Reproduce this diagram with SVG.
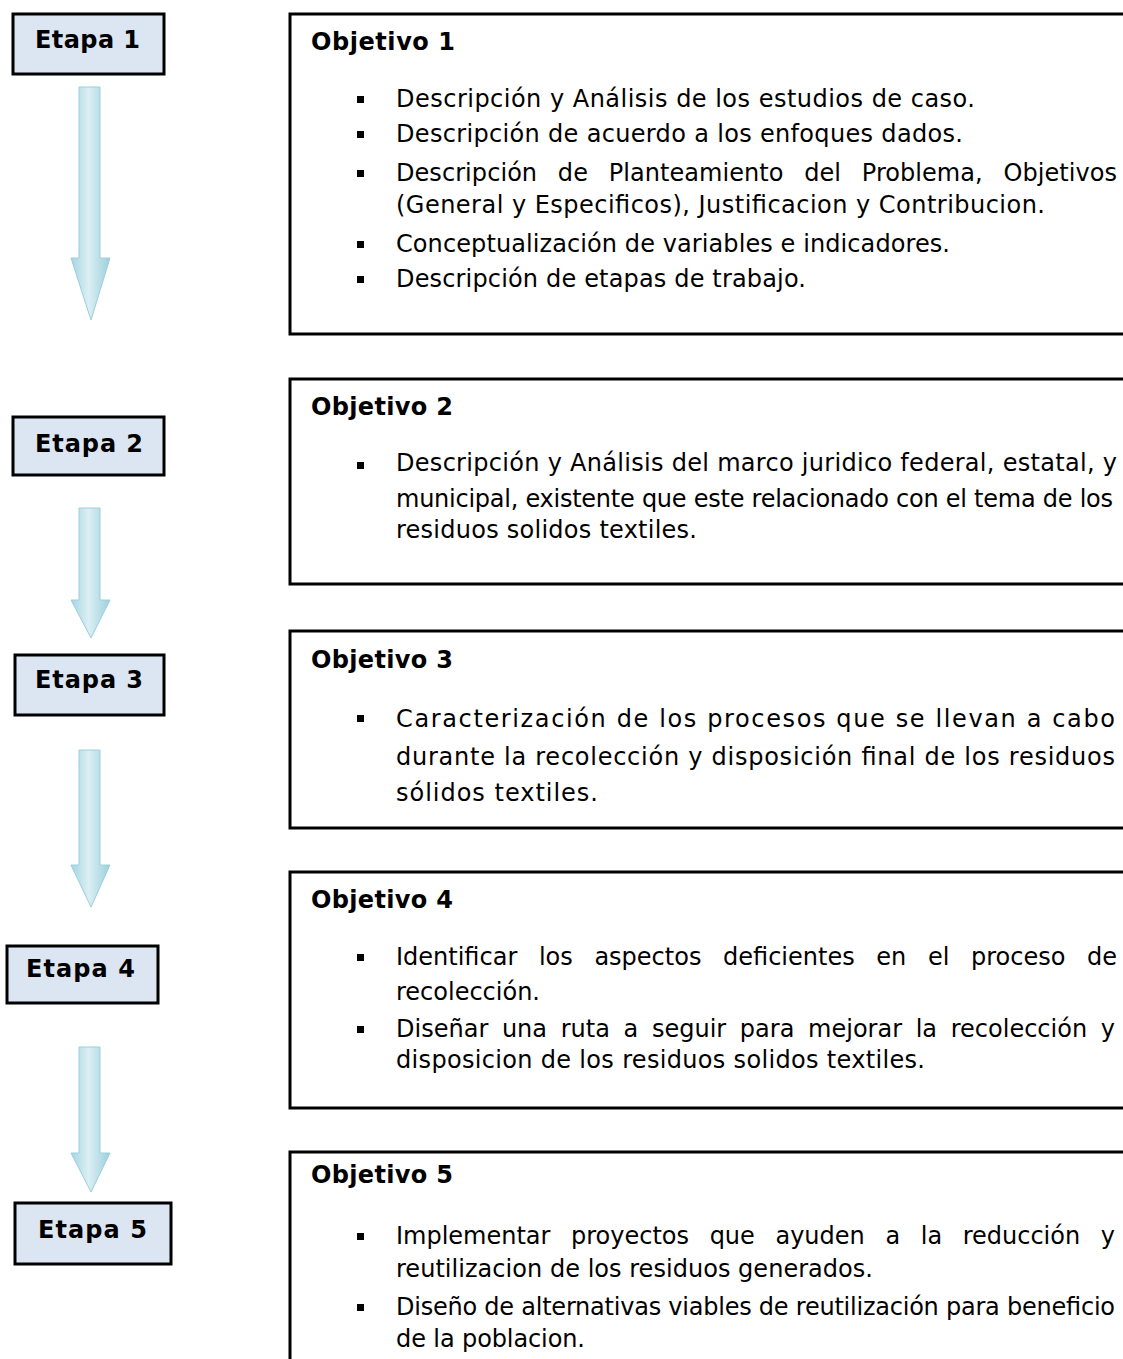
<svg xmlns="http://www.w3.org/2000/svg" width="1123" height="1359" viewBox="0 0 1123 1359">
<style>
.etapa rect{fill:#dce6f2;stroke:#000;stroke-width:3}
.etapa text{font-family:"DejaVu Sans","Liberation Sans",Arial,sans-serif;font-weight:bold;font-size:24px;fill:#000}
.obj rect.box{fill:#fff;stroke:#000;stroke-width:3}
.obj .t{font-family:"DejaVu Sans","Liberation Sans",Arial,sans-serif;font-weight:bold;font-size:24px;fill:#000}
.obj .b{font-family:"DejaVu Sans","Liberation Sans",Arial,sans-serif;font-size:24px;fill:#000}
.obj rect.dot{fill:#000;stroke:none}
.arr{fill:url(#ag);stroke:#9ccfdb;stroke-width:1}
</style>
<defs>
<linearGradient id="ag" x1="0" y1="0" x2="1" y2="0">
<stop offset="0" stop-color="#a3d5e1"/>
<stop offset="0.45" stop-color="#dbeff4"/>
<stop offset="1" stop-color="#9ccfdb"/>
</linearGradient>
</defs>
<rect width="1123" height="1359" fill="#fff"/>
<g id="connectors">
<path class="arr" d="M79,87 H100 V258 H110 L91,320 L71,258 H79 Z"/>
<path class="arr" d="M79,508 H100 V600 H110 L91,638 L71,600 H79 Z"/>
<path class="arr" d="M79,750 H100 V865 H110 L91,907 L71,865 H79 Z"/>
<path class="arr" d="M79,1047 H100 V1153 H110 L91,1192 L71,1153 H79 Z"/>
</g>
<g id="etapa1" class="etapa"><rect x="13" y="14" width="151" height="60"/><text x="35" y="48" textLength="105" lengthAdjust="spacing">Etapa 1</text></g>
<g id="etapa2" class="etapa"><rect x="13" y="417" width="151" height="58"/><text x="35" y="452" textLength="108" lengthAdjust="spacing">Etapa 2</text></g>
<g id="etapa3" class="etapa"><rect x="15" y="655" width="149" height="60"/><text x="35" y="688" textLength="108" lengthAdjust="spacing">Etapa 3</text></g>
<g id="etapa4" class="etapa"><rect x="7" y="946" width="151" height="57"/><text x="26" y="977" textLength="109" lengthAdjust="spacing">Etapa 4</text></g>
<g id="etapa5" class="etapa"><rect x="15" y="1203" width="156" height="61"/><text x="38" y="1238" textLength="109" lengthAdjust="spacing">Etapa 5</text></g>

<g id="objetivo1" class="obj">
<rect class="box" x="290" y="14" width="850" height="320"/>
<text class="t" x="311" y="50" textLength="144" lengthAdjust="spacing">Objetivo 1</text>
<rect class="dot" x="357" y="96" width="7" height="7"/>
<text class="b" x="396" y="107" textLength="579" lengthAdjust="spacing">Descripción y Análisis de los estudios de caso.</text>
<rect class="dot" x="357" y="131" width="7" height="7"/>
<text class="b" x="396" y="142" textLength="567" lengthAdjust="spacing">Descripción de acuerdo a los enfoques dados.</text>
<rect class="dot" x="357" y="170" width="7" height="7"/>
<text class="b" x="396" y="181" word-spacing="13" textLength="721" lengthAdjust="spacing">Descripción de Planteamiento del Problema, Objetivos</text>
<text class="b" x="396" y="213" textLength="649" lengthAdjust="spacing">(General y Especificos), Justificacion y Contribucion.</text>
<rect class="dot" x="357" y="241" width="7" height="7"/>
<text class="b" x="396" y="252" textLength="554" lengthAdjust="spacing">Conceptualización de variables e indicadores.</text>
<rect class="dot" x="357" y="276" width="7" height="7"/>
<text class="b" x="396" y="287" textLength="410" lengthAdjust="spacing">Descripción de etapas de trabajo.</text>
</g>

<g id="objetivo2" class="obj">
<rect class="box" x="290" y="379" width="850" height="205"/>
<text class="t" x="311" y="415" textLength="142" lengthAdjust="spacing">Objetivo 2</text>
<rect class="dot" x="357" y="462" width="7" height="7"/>
<text class="b" x="396" y="471" textLength="721" lengthAdjust="spacing">Descripción y Análisis del marco juridico federal, estatal, y</text>
<text class="b" x="396" y="507" textLength="717" lengthAdjust="spacing">municipal, existente que este relacionado con el tema de los</text>
<text class="b" x="396" y="538" textLength="301" lengthAdjust="spacing">residuos solidos textiles.</text>
</g>

<g id="objetivo3" class="obj">
<rect class="box" x="290" y="631" width="850" height="197"/>
<text class="t" x="311" y="668" textLength="142" lengthAdjust="spacing">Objetivo 3</text>
<rect class="dot" x="357" y="715" width="7" height="7"/>
<text class="b" x="396" y="727" textLength="719" lengthAdjust="spacing">Caracterización de los procesos que se llevan a cabo</text>
<text class="b" x="396" y="765" textLength="719" lengthAdjust="spacing">durante la recolección y disposición final de los residuos</text>
<text class="b" x="396" y="801" textLength="202" lengthAdjust="spacing">sólidos textiles.</text>
</g>

<g id="objetivo4" class="obj">
<rect class="box" x="290" y="872" width="850" height="236"/>
<text class="t" x="311" y="908" textLength="142" lengthAdjust="spacing">Objetivo 4</text>
<rect class="dot" x="357" y="954" width="7" height="7"/>
<text class="b" x="396" y="965" word-spacing="14" textLength="721" lengthAdjust="spacing">Identificar los aspectos deficientes en el proceso de</text>
<text class="b" x="396" y="1000" textLength="144" lengthAdjust="spacing">recolección.</text>
<rect class="dot" x="357" y="1026" width="7" height="7"/>
<text class="b" x="396" y="1037" word-spacing="6" textLength="719" lengthAdjust="spacing">Diseñar una ruta a seguir para mejorar la recolección y</text>
<text class="b" x="396" y="1068" textLength="529" lengthAdjust="spacing">disposicion de los residuos solidos textiles.</text>
</g>

<g id="objetivo5" class="obj">
<rect class="box" x="290" y="1152" width="850" height="240"/>
<text class="t" x="311" y="1183" textLength="142" lengthAdjust="spacing">Objetivo 5</text>
<rect class="dot" x="357" y="1233" width="7" height="7"/>
<text class="b" x="396" y="1244" word-spacing="13" textLength="719" lengthAdjust="spacing">Implementar proyectos que ayuden a la reducción y</text>
<text class="b" x="396" y="1277" textLength="477" lengthAdjust="spacing">reutilizacion de los residuos generados.</text>
<rect class="dot" x="357" y="1304" width="7" height="7"/>
<text class="b" x="396" y="1315" textLength="719" lengthAdjust="spacing">Diseño de alternativas viables de reutilización para beneficio</text>
<text class="b" x="396" y="1347" textLength="189" lengthAdjust="spacing">de la poblacion.</text>
</g>
</svg>
